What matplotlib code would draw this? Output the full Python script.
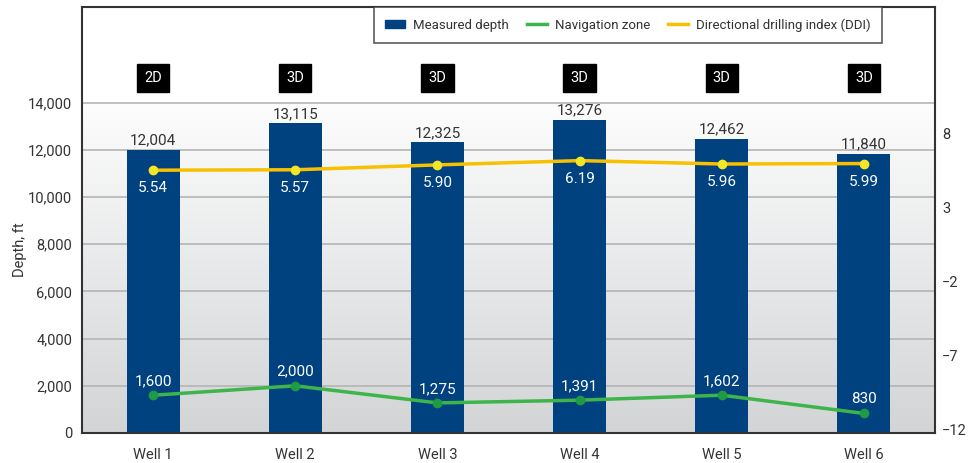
import numpy as np
import matplotlib.pyplot as plt
from matplotlib.colors import LinearSegmentedColormap
from matplotlib.lines import Line2D
from matplotlib.patches import Patch

plt.rcParams['font.family'] = ['Roboto', 'DejaVu Sans']

wells = ["Well 1", "Well 2", "Well 3", "Well 4", "Well 5", "Well 6"]
kind = ["2D", "3D", "3D", "3D", "3D", "3D"]
depth = [12004, 13115, 12325, 13276, 12462, 11840]
nav_zone = [1600, 2000, 1275, 1391, 1602, 830]
ddi = [5.54, 5.57, 5.90, 6.19, 5.96, 5.99]

navy = "#00427f"
green = "#3db54a"
yellow = "#f7c000"
txt = "#333333"

fig = plt.figure(figsize=(9.79, 4.63), dpi=100)
ax = fig.add_axes([82/979, 1 - 433/463, 853/979, 426/463])
x = np.arange(len(wells))

# gradient background below the top gridline
grad = np.linspace(0, 1, 256).reshape(-1, 1)
bg = LinearSegmentedColormap.from_list("bg", ["#d3d4d6", "#e8e9ea", "#fdfdfd"])
ax.imshow(grad, extent=(-0.5, 5.5, 0, 14000), aspect='auto', origin='lower',
          cmap=bg, zorder=0)

for v in range(0, 14001, 2000):
    ax.axhline(v, color="#b4b4b4", lw=1.2, zorder=1)

ax.bar(x, depth, width=0.373, color=navy, zorder=2)
ax.plot(x, nav_zone, color=green, lw=2.5, marker='o', ms=6,
        mfc="#1f9a45", mec="#1f9a45", zorder=4)

for i in x:
    ax.text(i, depth[i] + 90, f"{depth[i]:,}", ha='center', va='bottom',
            fontsize=11, color=txt, zorder=5)
    ax.text(i, nav_zone[i] + 300, f"{nav_zone[i]:,}", ha='center', va='bottom',
            fontsize=11, color="white", zorder=5)
    ax.text(i, 15050, kind[i], ha='center', va='center', fontsize=10.5,
            color="white", zorder=5,
            bbox=dict(boxstyle="square,pad=0.5", fc="black", ec="black"))

ax.set_xlim(-0.5, 5.5)
ax.set_ylim(0, 18050)
ax.set_xticks(x)
ax.set_xticklabels(wells, fontsize=10.5, color=txt)
ax.set_yticks(range(0, 14001, 2000))
ax.set_yticklabels([f"{v:,}" for v in range(0, 14001, 2000)], fontsize=10.5, color=txt)
ax.tick_params(axis='y', length=0, pad=7)
ax.tick_params(axis='x', length=0, pad=11)
ax.set_ylabel("Depth, ft", fontsize=10.5, color=txt)
ax.yaxis.set_label_coords(-0.064, 0.43)
for s in ax.spines.values():
    s.set_color("#333333")
    s.set_linewidth(1.5)

ax2 = ax.twinx()
ax2.plot(x, ddi, color=yellow, lw=2.5, marker='o', ms=6,
         mfc="#f2e626", mec="#f2e626", zorder=4)
for i in x:
    ax2.text(i, ddi[i] - 0.75, f"{ddi[i]:.2f}", ha='center', va='top',
             fontsize=11, color="white", zorder=5)
ax2.set_ylim(-12.27, 16.6)
ax2.set_yticks([8, 3, -2, -7, -12])
ax2.set_yticklabels(["8", "3", "\u22122", "\u22127", "\u221212"], fontsize=10.5, color=txt)
ax2.tick_params(length=0, pad=5)
for s in ax2.spines.values():
    s.set_visible(False)

handles = [Patch(color=navy), Line2D([], [], color=green, lw=2.5),
           Line2D([], [], color=yellow, lw=2.5)]
leg = ax2.legend(handles, ["Measured depth", "Navigation zone", "Directional drilling index (DDI)"],
                 ncol=3, loc='upper right', bbox_to_anchor=(882/979, 1 - 7/463),
                 bbox_transform=fig.transFigure, fontsize=9.5, frameon=True,
                 fancybox=False, edgecolor="#333333", handlelength=1.5,
                 handleheight=0.6, handletextpad=0.6, columnspacing=1.4,
                 borderpad=0.85, borderaxespad=0)
leg.get_frame().set_linewidth(1.2)
for t in leg.get_texts():
    t.set_color(txt)

fig.savefig("out.png", dpi=100)
